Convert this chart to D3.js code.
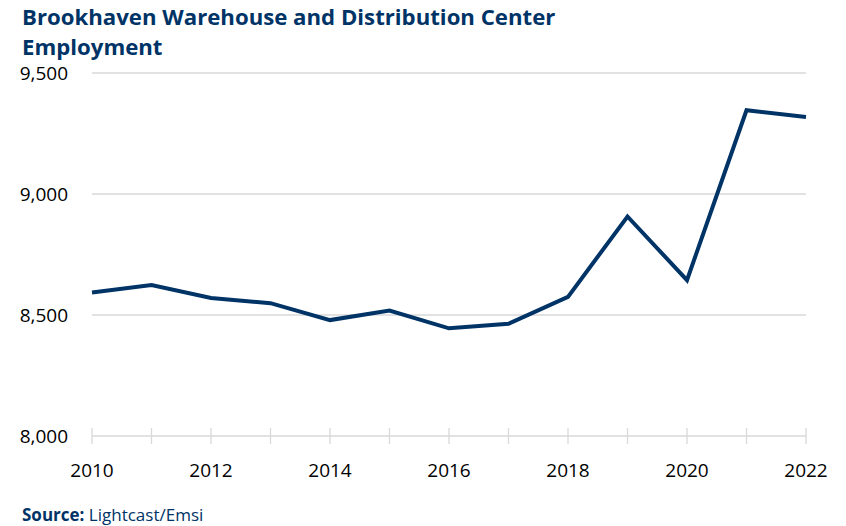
<!DOCTYPE html>
<html>
<head>
<meta charset="utf-8">
<script src="https://cdn.jsdelivr.net/npm/d3@7"></script>
<style>
    body { margin: 0; background: #fff; }
    text { font-family: "Open Sans", sans-serif; }
</style>
</head>
<body>
<div id="chart"></div>
<script>
// data
var years = [2010, 2011, 2012, 2013, 2014, 2015, 2016, 2017, 2018, 2019, 2020, 2021, 2022];
var employment = [8593, 8624, 8570, 8549, 8479, 8518, 8445, 8464, 8575, 8907, 8644, 9346, 9318];
var yTicks = [8000, 8500, 9000, 9500];
var xTickLabels = [2010, 2012, 2014, 2016, 2018, 2020, 2022];
var titleLines = ["Brookhaven Warehouse and Distribution Center", "Employment"];

var width = 846, height = 526;
var navy = "#003366";
var grid = "#d9d9d9";

var svg = d3.select("#chart")
    .append("svg")
    .attr("width", width)
    .attr("height", height);

var x = d3.scaleLinear()
    .domain([2010, 2022])
    .range([92, 806]);

var y = d3.scaleLinear()
    .domain([8000, 9500])
    .range([436, 73]);

// title
svg.append("g")
    .selectAll("text")
    .data(titleLines)
    .enter()
    .append("text")
    .attr("x", 22)
    .attr("y", function(d, i) { return 25 + i * 30; })
    .attr("fill", navy)
    .attr("font-weight", 700)
    .attr("font-size", 22.2)
    .text(function(d) { return d; });

// gridlines (skip the baseline, it is drawn as the axis)
svg.append("g")
    .selectAll("line")
    .data(yTicks.slice(1))
    .enter()
    .append("line")
    .attr("x1", x(2010))
    .attr("x2", x(2022))
    .attr("y1", function(d) { return y(d); })
    .attr("y2", function(d) { return y(d); })
    .attr("stroke", grid)
    .attr("stroke-width", 1.3);

// y labels
svg.append("g")
    .selectAll("text")
    .data(yTicks)
    .enter()
    .append("text")
    .attr("x", 68)
    .attr("y", function(d) { return y(d) + 7; })
    .attr("text-anchor", "end")
    .attr("font-size", 19)
    .attr("fill", "#000")
    .text(d3.format(","));

// x axis line + ticks
var axis = svg.append("g");
axis.append("line")
    .attr("x1", x(2010))
    .attr("x2", x(2022))
    .attr("y1", y(8000))
    .attr("y2", y(8000))
    .attr("stroke", grid)
    .attr("stroke-width", 1.3);

axis.selectAll(".tick")
    .data(years)
    .enter()
    .append("line")
    .attr("class", "tick")
    .attr("x1", function(d) { return x(d); })
    .attr("x2", function(d) { return x(d); })
    .attr("y1", y(8000) - 8)
    .attr("y2", y(8000) + 8)
    .attr("stroke", grid)
    .attr("stroke-width", 1.3);

axis.selectAll("text")
    .data(xTickLabels)
    .enter()
    .append("text")
    .attr("x", function(d) { return x(d); })
    .attr("y", 477)
    .attr("text-anchor", "middle")
    .attr("font-size", 19)
    .attr("fill", "#000")
    .text(function(d) { return d; });

// the line
var line = d3.line()
    .x(function(d, i) { return x(years[i]); })
    .y(function(d) { return y(d); });

svg.append("path")
    .datum(employment)
    .attr("d", line)
    .attr("fill", "none")
    .attr("stroke", navy)
    .attr("stroke-width", 4)
    .attr("stroke-linejoin", "miter");

// source note
var src = svg.append("text")
    .attr("x", 22)
    .attr("y", 521)
    .attr("font-size", 17)
    .attr("fill", navy);
src.append("tspan").attr("font-weight", 700).text("Source:");
src.append("tspan").text(" Lightcast/Emsi");
</script>
</body>
</html>
